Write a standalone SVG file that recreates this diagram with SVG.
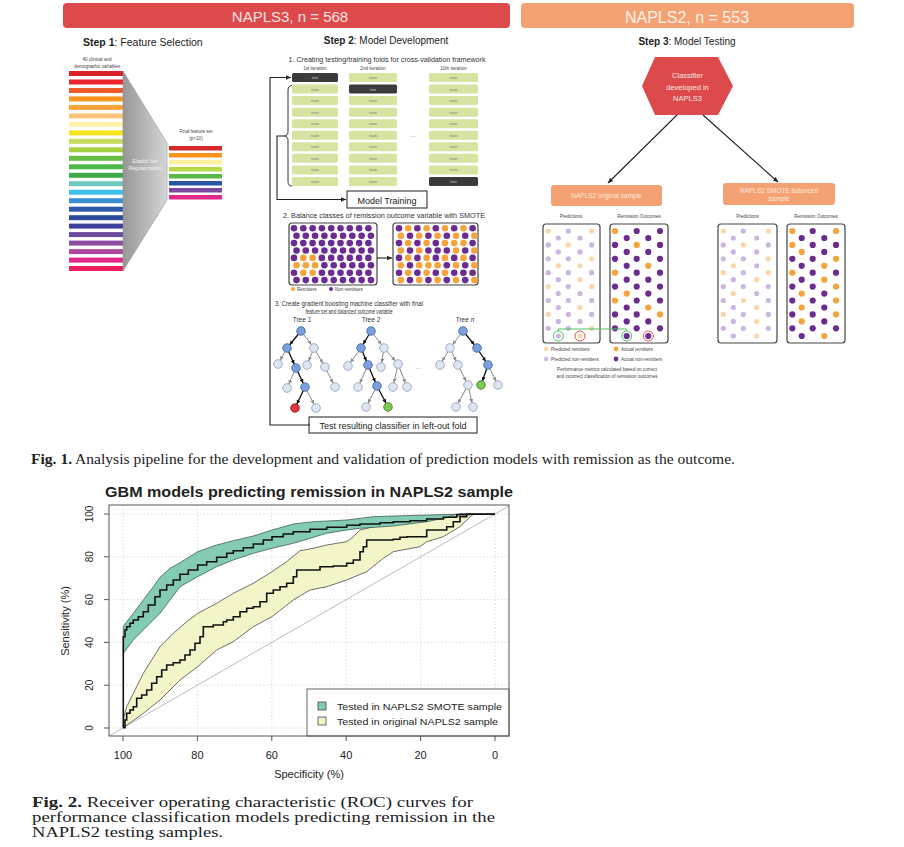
<svg xmlns="http://www.w3.org/2000/svg" width="904" height="847" viewBox="0 0 904 847">
<defs>
<style>
.sans{font-family:"Liberation Sans",Arial,sans-serif}
.serif{font-family:"Liberation Serif","Times New Roman",serif}
.tr{fill:#d6e4a2}
.ts{fill:#3b3b3b}
.tt{font-family:"Liberation Sans",Arial,sans-serif;font-size:4px;fill:#777;text-anchor:middle}
.tw{font-family:"Liberation Sans",Arial,sans-serif;font-size:4px;fill:#ccc;text-anchor:middle}
.pu{fill:#6b2c91}
.or{fill:#f5a43c}
.pp{fill:#fad6a8}
.pl{fill:#cbb6df}
.nb{fill:#7b9fdb;stroke:#3f62a8;stroke-width:0.8}
.nl{fill:#dfe6f1;stroke:#8d9cb6;stroke-width:0.8}
.nr{fill:#e2323f;stroke:#8a1a22;stroke-width:0.8}
.ng{fill:#7cc850;stroke:#3d7a25;stroke-width:0.8}
.eb{stroke:#111;stroke-width:1.3;fill:none;marker-end:url(#ab)}
.eg{stroke:#8a8a8a;stroke-width:1;fill:none;marker-end:url(#ag)}
.box{fill:#fff;stroke:#444;stroke-width:1.2}
.grid{stroke:#d4d4d4;stroke-width:0.8;stroke-dasharray:1.5 2}
.tiny{font-family:"Liberation Sans",Arial,sans-serif;font-size:4.6px;fill:#444}
.con{stroke:#222;stroke-width:1.1;fill:none;marker-end:url(#ar)}
.lab{font-family:"Liberation Sans",Arial,sans-serif;font-size:11px;fill:#222}
</style>
<marker id="ab" markerWidth="5" markerHeight="5" refX="8.3" refY="2" orient="auto" markerUnits="userSpaceOnUse"><path d="M0,0 L4,2 L0,4 z" fill="#111"/></marker>
<marker id="ag" markerWidth="5" markerHeight="5" refX="8.3" refY="2" orient="auto" markerUnits="userSpaceOnUse"><path d="M0,0 L4,2 L0,4 z" fill="#8a8a8a"/></marker>
<marker id="ar" markerWidth="6" markerHeight="6" refX="5" refY="2.3" orient="auto" markerUnits="userSpaceOnUse"><path d="M0,0 L5,2.3 L0,4.6 z" fill="#222"/></marker>
<linearGradient id="trap" x1="0" y1="0" x2="1" y2="0"><stop offset="0" stop-color="#979797"/><stop offset="1" stop-color="#d6d6d6"/></linearGradient>
<clipPath id="plotclip"><rect x="109" y="505" width="400" height="231"/></clipPath>
</defs>
<rect width="904" height="847" fill="#fff"/>

<g id="banner-napls3">
<rect x="63" y="3" width="447" height="25" rx="4" fill="#dc4a4b"/>
<text x="290" y="22" class="sans" font-size="15" fill="#fbe3e3" text-anchor="middle">NAPLS3, n = 568</text>
</g>
<g id="banner-napls2">
<rect x="521" y="3" width="333" height="25" rx="4" fill="#f4a273"/>
<text x="687" y="23" class="sans" font-size="16" fill="#fff2ea" text-anchor="middle">NAPLS2, n = 553</text>
</g>

<g id="step1">
<text x="83" y="46" class="sans" font-size="10.5" fill="#222"><tspan font-weight="bold">Step 1</tspan>: Feature Selection</text>
<text x="97" y="61" class="tiny" text-anchor="middle">40 clinical and</text>
<text x="97" y="67.5" class="tiny" text-anchor="middle">demographic variables</text>
<g id="all-variables">
<rect x="69" y="71" width="54" height="5" fill="#d9212a"/>
<rect x="69" y="79.5" width="54" height="5" fill="#e8232a"/>
<rect x="69" y="88" width="54" height="5" fill="#ef5a2a"/>
<rect x="69" y="96.4" width="54" height="5" fill="#f7941d"/>
<rect x="69" y="104.9" width="54" height="5" fill="#f9a53a"/>
<rect x="69" y="113.4" width="54" height="5" fill="#fcc57a"/>
<rect x="69" y="121.9" width="54" height="5" fill="#fdf2a8"/>
<rect x="69" y="130.4" width="54" height="5" fill="#f3e41c"/>
<rect x="69" y="138.8" width="54" height="5" fill="#c5dc5e"/>
<rect x="69" y="147.3" width="54" height="5" fill="#a5cf3e"/>
<rect x="69" y="155.8" width="54" height="5" fill="#68bd45"/>
<rect x="69" y="164.3" width="54" height="5" fill="#4db848"/>
<rect x="69" y="172.8" width="54" height="5" fill="#3ea84a"/>
<rect x="69" y="181.2" width="54" height="5" fill="#6fc8bd"/>
<rect x="69" y="189.7" width="54" height="5" fill="#40c0ea"/>
<rect x="69" y="198.2" width="54" height="5" fill="#3a90d0"/>
<rect x="69" y="206.7" width="54" height="5" fill="#2d5aa8"/>
<rect x="69" y="215.2" width="54" height="5" fill="#2b4c9b"/>
<rect x="69" y="223.6" width="54" height="5" fill="#3e3f98"/>
<rect x="69" y="232.1" width="54" height="5" fill="#6c4a9e"/>
<rect x="69" y="240.6" width="54" height="5" fill="#8b4ca1"/>
<rect x="69" y="249.1" width="54" height="5" fill="#b0479e"/>
<rect x="69" y="257.6" width="54" height="5" fill="#e2298a"/>
<rect x="69" y="266" width="54" height="5" fill="#ee1d5c"/>
</g>
<g id="node-elastic-net">
<polygon points="123,71 167,143 167,200 123,271" fill="url(#trap)" stroke="#888" stroke-width="0.5"/>
<text x="145" y="163" class="sans" font-size="5.2" fill="#f2f2f2" text-anchor="middle">Elastic Net</text>
<text x="145" y="170" class="sans" font-size="5.2" fill="#f2f2f2" text-anchor="middle">Regularization</text>
</g>
<text x="196" y="133" class="tiny" text-anchor="middle">Final feature set</text>
<text x="196" y="140" class="tiny" text-anchor="middle">(p&lt;10)</text>
<g id="final-features">
<rect x="169" y="146" width="53" height="4.5" fill="#d42a2a"/>
<rect x="169" y="153" width="53" height="4.5" fill="#f7941d"/>
<rect x="169" y="160" width="53" height="4.5" fill="#fdf0a0"/>
<rect x="169" y="167" width="53" height="4.5" fill="#b8d848"/>
<rect x="169" y="174" width="53" height="4.5" fill="#5cb848"/>
<rect x="169" y="181" width="53" height="4.5" fill="#2a55a4"/>
<rect x="169" y="188" width="53" height="4.5" fill="#7a4a9c"/>
<rect x="169" y="195" width="53" height="4.5" fill="#e02a8a"/>
</g>
</g>

<g id="step2">
<text x="386" y="44" class="sans" font-size="10" fill="#222" text-anchor="middle"><tspan font-weight="bold">Step 2</tspan>: Model Development</text>
<text x="387" y="62" class="sans" font-size="6.5" fill="#333" text-anchor="middle" textLength="197" lengthAdjust="spacingAndGlyphs">1. Creating testing/training folds for cross-validation framework</text>
<text x="315" y="69.5" class="tiny" text-anchor="middle" font-size="4.2">1st iteration</text>
<text x="373" y="69.5" class="tiny" text-anchor="middle" font-size="4.2">2nd iteration</text>
<text x="453.5" y="69.5" class="tiny" text-anchor="middle" font-size="4.2">10th iteration</text>
<g id="folds-iter1">
<rect x="292" y="73" width="46" height="9" rx="1.5" class="ts"/><text x="315" y="79" class="tw">test</text>
<rect x="292" y="84.55" width="46" height="9" rx="1.5" class="tr"/><text x="315" y="90.55" class="tt">train</text>
<rect x="292" y="96.1" width="46" height="9" rx="1.5" class="tr"/><text x="315" y="102.1" class="tt">train</text>
<rect x="292" y="107.65" width="46" height="9" rx="1.5" class="tr"/><text x="315" y="113.65" class="tt">train</text>
<rect x="292" y="119.2" width="46" height="9" rx="1.5" class="tr"/><text x="315" y="125.2" class="tt">train</text>
<rect x="292" y="130.75" width="46" height="9" rx="1.5" class="tr"/><text x="315" y="136.75" class="tt">train</text>
<rect x="292" y="142.3" width="46" height="9" rx="1.5" class="tr"/><text x="315" y="148.3" class="tt">train</text>
<rect x="292" y="153.85" width="46" height="9" rx="1.5" class="tr"/><text x="315" y="159.85" class="tt">train</text>
<rect x="292" y="165.4" width="46" height="9" rx="1.5" class="tr"/><text x="315" y="171.4" class="tt">train</text>
<rect x="292" y="176.95" width="46" height="9" rx="1.5" class="tr"/><text x="315" y="182.95" class="tt">train</text>
</g>
<g id="folds-iter2">
<rect x="349" y="73" width="48" height="9" rx="1.5" class="tr"/><text x="373" y="79" class="tt">train</text>
<rect x="349" y="84.55" width="48" height="9" rx="1.5" class="ts"/><text x="373" y="90.55" class="tw">test</text>
<rect x="349" y="96.1" width="48" height="9" rx="1.5" class="tr"/><text x="373" y="102.1" class="tt">train</text>
<rect x="349" y="107.65" width="48" height="9" rx="1.5" class="tr"/><text x="373" y="113.65" class="tt">train</text>
<rect x="349" y="119.2" width="48" height="9" rx="1.5" class="tr"/><text x="373" y="125.2" class="tt">train</text>
<rect x="349" y="130.75" width="48" height="9" rx="1.5" class="tr"/><text x="373" y="136.75" class="tt">train</text>
<rect x="349" y="142.3" width="48" height="9" rx="1.5" class="tr"/><text x="373" y="148.3" class="tt">train</text>
<rect x="349" y="153.85" width="48" height="9" rx="1.5" class="tr"/><text x="373" y="159.85" class="tt">train</text>
<rect x="349" y="165.4" width="48" height="9" rx="1.5" class="tr"/><text x="373" y="171.4" class="tt">train</text>
<rect x="349" y="176.95" width="48" height="9" rx="1.5" class="tr"/><text x="373" y="182.95" class="tt">train</text>
</g>
<text x="413" y="137" class="sans" font-size="7" fill="#999" text-anchor="middle">...</text>
<g id="folds-iter10">
<rect x="429" y="73" width="49" height="9" rx="1.5" class="tr"/><text x="453.5" y="79" class="tt">train</text>
<rect x="429" y="84.55" width="49" height="9" rx="1.5" class="tr"/><text x="453.5" y="90.55" class="tt">train</text>
<rect x="429" y="96.1" width="49" height="9" rx="1.5" class="tr"/><text x="453.5" y="102.1" class="tt">train</text>
<rect x="429" y="107.65" width="49" height="9" rx="1.5" class="tr"/><text x="453.5" y="113.65" class="tt">train</text>
<rect x="429" y="119.2" width="49" height="9" rx="1.5" class="tr"/><text x="453.5" y="125.2" class="tt">train</text>
<rect x="429" y="130.75" width="49" height="9" rx="1.5" class="tr"/><text x="453.5" y="136.75" class="tt">train</text>
<rect x="429" y="142.3" width="49" height="9" rx="1.5" class="tr"/><text x="453.5" y="148.3" class="tt">train</text>
<rect x="429" y="153.85" width="49" height="9" rx="1.5" class="tr"/><text x="453.5" y="159.85" class="tt">train</text>
<rect x="429" y="165.4" width="49" height="9" rx="1.5" class="tr"/><text x="453.5" y="171.4" class="tt">train</text>
<rect x="429" y="176.95" width="49" height="9" rx="1.5" class="ts"/><text x="453.5" y="182.95" class="tw">test</text>
</g>
<path d="M292,85.5 Q288,85.5 288,90 L288,131.5 Q288,136 284,136 Q288,136 288,140.5 L288,181.5 Q288,186 292,186" fill="none" stroke="#333" stroke-width="1"/>
<g id="node-model-training">
<rect x="347" y="191" width="80" height="17" class="box" stroke-width="1"/>
<text x="387" y="203.5" class="sans" font-size="9" fill="#222" text-anchor="middle">Model Training</text>
</g>
<text x="384" y="218" class="sans" font-size="6.5" fill="#333" text-anchor="middle" textLength="202" lengthAdjust="spacingAndGlyphs">2. Balance classes of remission outcome variable with SMOTE</text>
<g id="smote-before">
<rect x="289" y="223" width="88" height="62" rx="3" class="box"/>
<circle cx="294" cy="228.3" r="3.3" class="pu"/><circle cx="303.3" cy="228.3" r="3.3" class="pu"/><circle cx="312.6" cy="228.3" r="3.3" class="pu"/><circle cx="321.9" cy="228.3" r="3.3" class="pu"/><circle cx="331.2" cy="228.3" r="3.3" class="pu"/><circle cx="340.5" cy="228.3" r="3.3" class="pu"/><circle cx="349.8" cy="228.3" r="3.3" class="pu"/><circle cx="359.1" cy="228.3" r="3.3" class="pu"/><circle cx="368.4" cy="228.3" r="3.3" class="pu"/>
<circle cx="296.5" cy="235.7" r="3.3" class="pu"/><circle cx="305.8" cy="235.7" r="3.3" class="pu"/><circle cx="315.1" cy="235.7" r="3.3" class="pu"/><circle cx="324.4" cy="235.7" r="3.3" class="pu"/><circle cx="333.7" cy="235.7" r="3.3" class="pu"/><circle cx="343" cy="235.7" r="3.3" class="pu"/><circle cx="352.3" cy="235.7" r="3.3" class="pu"/><circle cx="361.6" cy="235.7" r="3.3" class="pu"/><circle cx="370.9" cy="235.7" r="3.3" class="pu"/>
<circle cx="294" cy="243.1" r="3.3" class="pu"/><circle cx="303.3" cy="243.1" r="3.3" class="pu"/><circle cx="312.6" cy="243.1" r="3.3" class="pu"/><circle cx="321.9" cy="243.1" r="3.3" class="pu"/><circle cx="331.2" cy="243.1" r="3.3" class="pu"/><circle cx="340.5" cy="243.1" r="3.3" class="pu"/><circle cx="349.8" cy="243.1" r="3.3" class="pu"/><circle cx="359.1" cy="243.1" r="3.3" class="pu"/><circle cx="368.4" cy="243.1" r="3.3" class="pu"/>
<circle cx="296.5" cy="250.5" r="3.3" class="pu"/><circle cx="305.8" cy="250.5" r="3.3" class="pu"/><circle cx="315.1" cy="250.5" r="3.3" class="pu"/><circle cx="324.4" cy="250.5" r="3.3" class="pu"/><circle cx="333.7" cy="250.5" r="3.3" class="pu"/><circle cx="343" cy="250.5" r="3.3" class="pu"/><circle cx="352.3" cy="250.5" r="3.3" class="pu"/><circle cx="361.6" cy="250.5" r="3.3" class="pu"/><circle cx="370.9" cy="250.5" r="3.3" class="pu"/>
<circle cx="294" cy="257.9" r="3.3" class="pu"/><circle cx="303.3" cy="257.9" r="3.3" class="or"/><circle cx="312.6" cy="257.9" r="3.3" class="or"/><circle cx="321.9" cy="257.9" r="3.3" class="pu"/><circle cx="331.2" cy="257.9" r="3.3" class="pu"/><circle cx="340.5" cy="257.9" r="3.3" class="pu"/><circle cx="349.8" cy="257.9" r="3.3" class="pu"/><circle cx="359.1" cy="257.9" r="3.3" class="pu"/><circle cx="368.4" cy="257.9" r="3.3" class="pu"/>
<circle cx="296.5" cy="265.3" r="3.3" class="or"/><circle cx="305.8" cy="265.3" r="3.3" class="or"/><circle cx="315.1" cy="265.3" r="3.3" class="or"/><circle cx="324.4" cy="265.3" r="3.3" class="pu"/><circle cx="333.7" cy="265.3" r="3.3" class="pu"/><circle cx="343" cy="265.3" r="3.3" class="pu"/><circle cx="352.3" cy="265.3" r="3.3" class="pu"/><circle cx="361.6" cy="265.3" r="3.3" class="pu"/><circle cx="370.9" cy="265.3" r="3.3" class="pu"/>
<circle cx="294" cy="272.7" r="3.3" class="pu"/><circle cx="303.3" cy="272.7" r="3.3" class="or"/><circle cx="312.6" cy="272.7" r="3.3" class="or"/><circle cx="321.9" cy="272.7" r="3.3" class="pu"/><circle cx="331.2" cy="272.7" r="3.3" class="pu"/><circle cx="340.5" cy="272.7" r="3.3" class="pu"/><circle cx="349.8" cy="272.7" r="3.3" class="pu"/><circle cx="359.1" cy="272.7" r="3.3" class="pu"/><circle cx="368.4" cy="272.7" r="3.3" class="pu"/>
<circle cx="296.5" cy="280.1" r="3.3" class="pu"/><circle cx="305.8" cy="280.1" r="3.3" class="pu"/><circle cx="315.1" cy="280.1" r="3.3" class="pu"/><circle cx="324.4" cy="280.1" r="3.3" class="pu"/><circle cx="333.7" cy="280.1" r="3.3" class="pu"/><circle cx="343" cy="280.1" r="3.3" class="pu"/><circle cx="352.3" cy="280.1" r="3.3" class="pu"/><circle cx="361.6" cy="280.1" r="3.3" class="pu"/><circle cx="370.9" cy="280.1" r="3.3" class="pu"/>
</g>
<g id="smote-after">
<rect x="393" y="223" width="85" height="62" rx="3" class="box"/>
<circle cx="399" cy="228.3" r="3.3" class="pu"/><circle cx="408.2" cy="228.3" r="3.3" class="or"/><circle cx="417.4" cy="228.3" r="3.3" class="pu"/><circle cx="426.6" cy="228.3" r="3.3" class="or"/><circle cx="435.8" cy="228.3" r="3.3" class="pu"/><circle cx="445" cy="228.3" r="3.3" class="or"/><circle cx="454.2" cy="228.3" r="3.3" class="pu"/><circle cx="463.4" cy="228.3" r="3.3" class="or"/><circle cx="472.6" cy="228.3" r="3.3" class="pu"/>
<circle cx="400.8" cy="235.7" r="3.3" class="or"/><circle cx="410" cy="235.7" r="3.3" class="pu"/><circle cx="419.2" cy="235.7" r="3.3" class="or"/><circle cx="428.4" cy="235.7" r="3.3" class="pu"/><circle cx="437.6" cy="235.7" r="3.3" class="or"/><circle cx="446.8" cy="235.7" r="3.3" class="pu"/><circle cx="456" cy="235.7" r="3.3" class="or"/><circle cx="465.2" cy="235.7" r="3.3" class="pu"/><circle cx="474.4" cy="235.7" r="3.3" class="or"/>
<circle cx="399" cy="243.1" r="3.3" class="pu"/><circle cx="408.2" cy="243.1" r="3.3" class="or"/><circle cx="417.4" cy="243.1" r="3.3" class="pu"/><circle cx="426.6" cy="243.1" r="3.3" class="or"/><circle cx="435.8" cy="243.1" r="3.3" class="pu"/><circle cx="445" cy="243.1" r="3.3" class="or"/><circle cx="454.2" cy="243.1" r="3.3" class="or"/><circle cx="463.4" cy="243.1" r="3.3" class="or"/><circle cx="472.6" cy="243.1" r="3.3" class="pu"/>
<circle cx="400.8" cy="250.5" r="3.3" class="or"/><circle cx="410" cy="250.5" r="3.3" class="pu"/><circle cx="419.2" cy="250.5" r="3.3" class="or"/><circle cx="428.4" cy="250.5" r="3.3" class="pu"/><circle cx="437.6" cy="250.5" r="3.3" class="pu"/><circle cx="446.8" cy="250.5" r="3.3" class="pu"/><circle cx="456" cy="250.5" r="3.3" class="or"/><circle cx="465.2" cy="250.5" r="3.3" class="pu"/><circle cx="474.4" cy="250.5" r="3.3" class="or"/>
<circle cx="399" cy="257.9" r="3.3" class="pu"/><circle cx="408.2" cy="257.9" r="3.3" class="or"/><circle cx="417.4" cy="257.9" r="3.3" class="pu"/><circle cx="426.6" cy="257.9" r="3.3" class="or"/><circle cx="435.8" cy="257.9" r="3.3" class="pu"/><circle cx="445" cy="257.9" r="3.3" class="or"/><circle cx="454.2" cy="257.9" r="3.3" class="pu"/><circle cx="463.4" cy="257.9" r="3.3" class="or"/><circle cx="472.6" cy="257.9" r="3.3" class="pu"/>
<circle cx="400.8" cy="265.3" r="3.3" class="or"/><circle cx="410" cy="265.3" r="3.3" class="pu"/><circle cx="419.2" cy="265.3" r="3.3" class="or"/><circle cx="428.4" cy="265.3" r="3.3" class="or"/><circle cx="437.6" cy="265.3" r="3.3" class="or"/><circle cx="446.8" cy="265.3" r="3.3" class="pu"/><circle cx="456" cy="265.3" r="3.3" class="or"/><circle cx="465.2" cy="265.3" r="3.3" class="pu"/><circle cx="474.4" cy="265.3" r="3.3" class="or"/>
<circle cx="399" cy="272.7" r="3.3" class="pu"/><circle cx="408.2" cy="272.7" r="3.3" class="or"/><circle cx="417.4" cy="272.7" r="3.3" class="pu"/><circle cx="426.6" cy="272.7" r="3.3" class="or"/><circle cx="435.8" cy="272.7" r="3.3" class="pu"/><circle cx="445" cy="272.7" r="3.3" class="or"/><circle cx="454.2" cy="272.7" r="3.3" class="pu"/><circle cx="463.4" cy="272.7" r="3.3" class="pu"/><circle cx="472.6" cy="272.7" r="3.3" class="pu"/>
<circle cx="400.8" cy="280.1" r="3.3" class="or"/><circle cx="410" cy="280.1" r="3.3" class="pu"/><circle cx="419.2" cy="280.1" r="3.3" class="or"/><circle cx="428.4" cy="280.1" r="3.3" class="pu"/><circle cx="437.6" cy="280.1" r="3.3" class="or"/><circle cx="446.8" cy="280.1" r="3.3" class="pu"/><circle cx="456" cy="280.1" r="3.3" class="or"/><circle cx="465.2" cy="280.1" r="3.3" class="pu"/><circle cx="474.4" cy="280.1" r="3.3" class="or"/>
</g>
<circle cx="293" cy="289" r="2" class="or"/><text x="297" y="290.6" class="tiny" font-size="4.2">Remitters</text>
<circle cx="331" cy="289" r="2" class="pu"/><text x="335" y="290.6" class="tiny" font-size="4.2">Non-remitters</text>
<text x="349" y="306" class="sans" font-size="6.3" fill="#333" text-anchor="middle" textLength="148" lengthAdjust="spacingAndGlyphs">3. Create gradient boosting machine classifier with final</text>
<text x="349" y="313.5" class="sans" font-size="6.3" fill="#333" text-anchor="middle" textLength="87" lengthAdjust="spacingAndGlyphs">feature set and balanced outcome variable</text>
<text x="302" y="322" class="sans" font-size="6.5" fill="#333" text-anchor="middle">Tree 1</text>
<text x="371" y="322" class="sans" font-size="6.5" fill="#333" text-anchor="middle">Tree 2</text>
<text x="465" y="322" class="sans" font-size="6.5" fill="#333" text-anchor="middle">Tree <tspan font-style="italic">n</tspan></text>
<g id="tree-1">
<path class="eb" d="M301,331 L287,348"/><path class="eg" d="M301,331 L314,348"/>
<path class="eg" d="M287,348 L278,364"/><path class="eb" d="M287,348 L296,368"/>
<path class="eg" d="M314,348 L307,365"/><path class="eg" d="M314,348 L325,367"/>
<path class="eg" d="M296,368 L287,388"/><path class="eb" d="M296,368 L305,387"/>
<path class="eg" d="M325,367 L335,387"/>
<path class="eb" d="M305,387 L295,408"/><path class="eg" d="M305,387 L316,408"/>
<circle cx="301" cy="331" r="4.3" class="nb"/><circle cx="287" cy="348" r="4.3" class="nb"/><circle cx="314" cy="348" r="4.3" class="nl"/>
<circle cx="278" cy="364" r="4.3" class="nl"/><circle cx="296" cy="368" r="4.3" class="nb"/><circle cx="307" cy="365" r="4.3" class="nl"/><circle cx="325" cy="367" r="4.3" class="nl"/>
<circle cx="287" cy="388" r="4.3" class="nl"/><circle cx="305" cy="387" r="4.3" class="nb"/><circle cx="335" cy="387" r="4.3" class="nl"/>
<circle cx="295" cy="408" r="4.3" class="nr"/><circle cx="316" cy="408" r="4.3" class="nl"/>
</g>
<g id="tree-2">
<path class="eb" d="M371,331 L361,348"/><path class="eg" d="M371,331 L384,348"/>
<path class="eg" d="M361,348 L348,366"/><path class="eb" d="M361,348 L368,365"/>
<path class="eg" d="M384,348 L381,367"/><path class="eg" d="M384,348 L398,364"/>
<path class="eg" d="M368,365 L358,387"/><path class="eb" d="M368,365 L377,386"/>
<path class="eg" d="M398,364 L393,387"/><path class="eg" d="M398,364 L407,387"/>
<path class="eb" d="M377,386 L388,407"/><path class="eg" d="M377,386 L366,407"/>
<circle cx="371" cy="331" r="4.3" class="nb"/><circle cx="361" cy="348" r="4.3" class="nb"/><circle cx="384" cy="348" r="4.3" class="nl"/>
<circle cx="348" cy="366" r="4.3" class="nl"/><circle cx="368" cy="365" r="4.3" class="nb"/><circle cx="381" cy="367" r="4.3" class="nl"/><circle cx="398" cy="364" r="4.3" class="nl"/>
<circle cx="358" cy="387" r="4.3" class="nl"/><circle cx="377" cy="386" r="4.3" class="nb"/><circle cx="393" cy="387" r="4.3" class="nl"/><circle cx="407" cy="387" r="4.3" class="nl"/>
<circle cx="388" cy="407" r="4.3" class="ng"/><circle cx="366" cy="407" r="4.3" class="nl"/>
</g>
<text x="418" y="369" class="sans" font-size="7" fill="#999" text-anchor="middle">...</text>
<g id="tree-n">
<path class="eg" d="M463,331 L450,348"/><path class="eb" d="M463,331 L477,348"/>
<path class="eg" d="M450,348 L440,365"/><path class="eg" d="M450,348 L458,365"/>
<path class="eb" d="M477,348 L488,365"/>
<path class="eg" d="M458,365 L468,385"/>
<path class="eb" d="M488,365 L481,385"/><path class="eg" d="M488,365 L498,385"/>
<path class="eg" d="M468,385 L456,407"/><path class="eg" d="M468,385 L473,407"/>
<circle cx="463" cy="331" r="4.3" class="nb"/><circle cx="450" cy="348" r="4.3" class="nl"/><circle cx="477" cy="348" r="4.3" class="nb"/>
<circle cx="440" cy="365" r="4.3" class="nl"/><circle cx="458" cy="365" r="4.3" class="nl"/><circle cx="488" cy="365" r="4.3" class="nb"/>
<circle cx="468" cy="385" r="4.3" class="nl"/><circle cx="481" cy="385" r="4.3" class="ng"/><circle cx="498" cy="385" r="4.3" class="nl"/>
<circle cx="456" cy="407" r="4.3" class="nl"/><circle cx="473" cy="407" r="4.3" class="nl"/>
</g>
<g id="node-test-classifier">
<rect x="309" y="417" width="168" height="16" class="box" stroke-width="1"/>
<text x="393" y="428.5" class="sans" font-size="9" fill="#222" text-anchor="middle">Test resulting classifier in left-out fold</text>
</g>
</g>

<g id="step3">
<text x="687" y="45" class="sans" font-size="10" fill="#222" text-anchor="middle"><tspan font-weight="bold">Step 3</tspan>: Model Testing</text>
<g id="node-classifier">
<polygon points="642,86 655,57 718,57 733,86 718,115 655,115" fill="#dc4a4b"/>
<text x="687.5" y="78" class="sans" font-size="7.5" fill="#fde6e6" text-anchor="middle">Classifier</text>
<text x="687.5" y="90" class="sans" font-size="7.5" fill="#fde6e6" text-anchor="middle">developed in</text>
<text x="687.5" y="101" class="sans" font-size="7.5" fill="#fde6e6" text-anchor="middle">NAPLS3</text>
</g>
<g id="node-original-sample">
<rect x="551" y="185" width="111" height="21" rx="3" fill="#f4a273"/>
<text x="606.5" y="198" class="sans" font-size="6.5" fill="#fde9dc" text-anchor="middle">NAPLS2 original sample</text>
</g>
<g id="node-smote-sample">
<rect x="723" y="183" width="112" height="22" rx="3" fill="#f4a273"/>
<text x="779" y="192.5" class="sans" font-size="6.5" fill="#fde9dc" text-anchor="middle">NAPLS2 SMOTE balanced</text>
<text x="779" y="201" class="sans" font-size="6.5" fill="#fde9dc" text-anchor="middle">sample</text>
</g>
<text x="571" y="218" class="tiny" text-anchor="middle">Predictions</text>
<text x="639" y="218" class="tiny" text-anchor="middle">Remission Outcomes</text>
<text x="747.5" y="218" class="tiny" text-anchor="middle">Predictions</text>
<text x="816" y="218" class="tiny" text-anchor="middle">Remission Outcomes</text>
<g id="orig-predictions">
<rect x="543" y="224" width="57" height="119" rx="3" class="box"/>
<circle cx="548.3" cy="231" r="2.6" class="pp"/><circle cx="568.3" cy="231" r="2.6" class="pl"/><circle cx="591.7" cy="231" r="2.6" class="pp"/>
<circle cx="558.3" cy="238" r="2.6" class="pl"/><circle cx="580" cy="238" r="2.6" class="pl"/>
<circle cx="548.3" cy="244.9" r="2.6" class="pl"/><circle cx="568.3" cy="244.9" r="2.6" class="pp"/><circle cx="591.7" cy="244.9" r="2.6" class="pl"/>
<circle cx="558.3" cy="251.9" r="2.6" class="pl"/><circle cx="580" cy="251.9" r="2.6" class="pl"/>
<circle cx="548.3" cy="258.8" r="2.6" class="pl"/><circle cx="568.3" cy="258.8" r="2.6" class="pl"/><circle cx="591.7" cy="258.8" r="2.6" class="pp"/>
<circle cx="558.3" cy="265.8" r="2.6" class="pp"/><circle cx="580" cy="265.8" r="2.6" class="pp"/>
<circle cx="548.3" cy="272.7" r="2.6" class="pl"/><circle cx="568.3" cy="272.7" r="2.6" class="pl"/><circle cx="591.7" cy="272.7" r="2.6" class="pl"/>
<circle cx="558.3" cy="279.7" r="2.6" class="pl"/><circle cx="580" cy="279.7" r="2.6" class="pp"/>
<circle cx="548.3" cy="286.6" r="2.6" class="pp"/><circle cx="568.3" cy="286.6" r="2.6" class="pl"/><circle cx="591.7" cy="286.6" r="2.6" class="pp"/>
<circle cx="558.3" cy="293.6" r="2.6" class="pl"/><circle cx="580" cy="293.6" r="2.6" class="pl"/>
<circle cx="548.3" cy="300.5" r="2.6" class="pl"/><circle cx="568.3" cy="300.5" r="2.6" class="pl"/><circle cx="591.7" cy="300.5" r="2.6" class="pl"/>
<circle cx="558.3" cy="307.5" r="2.6" class="pl"/><circle cx="580" cy="307.5" r="2.6" class="pp"/>
<circle cx="548.3" cy="314.4" r="2.6" class="pp"/><circle cx="568.3" cy="314.4" r="2.6" class="pl"/><circle cx="591.7" cy="314.4" r="2.6" class="pl"/>
<circle cx="558.3" cy="321.4" r="2.6" class="pl"/><circle cx="580" cy="321.4" r="2.6" class="pl"/>
<circle cx="548.3" cy="328.3" r="2.6" class="pl"/><circle cx="568.3" cy="328.3" r="2.6" class="pl"/><circle cx="591.7" cy="328.3" r="2.6" class="pp"/>
<circle cx="558.3" cy="336" r="2.6" class="pl"/><circle cx="580" cy="336" r="2.6" class="pp"/>
</g>
<g id="orig-outcomes">
<rect x="610" y="224" width="58" height="119" rx="3" class="box"/>
<circle cx="615" cy="231" r="3.1" class="or"/><circle cx="636.7" cy="231" r="3.1" class="pu"/><circle cx="660" cy="231" r="3.1" class="pu"/>
<circle cx="626.7" cy="238" r="3.1" class="pu"/><circle cx="648.3" cy="238" r="3.1" class="pu"/>
<circle cx="615" cy="244.9" r="3.1" class="pu"/><circle cx="636.7" cy="244.9" r="3.1" class="or"/><circle cx="660" cy="244.9" r="3.1" class="pu"/>
<circle cx="626.7" cy="251.9" r="3.1" class="pu"/><circle cx="648.3" cy="251.9" r="3.1" class="pu"/>
<circle cx="615" cy="258.8" r="3.1" class="pu"/><circle cx="636.7" cy="258.8" r="3.1" class="pu"/><circle cx="660" cy="258.8" r="3.1" class="pu"/>
<circle cx="626.7" cy="265.8" r="3.1" class="pu"/><circle cx="648.3" cy="265.8" r="3.1" class="or"/>
<circle cx="615" cy="272.7" r="3.1" class="or"/><circle cx="636.7" cy="272.7" r="3.1" class="pu"/><circle cx="660" cy="272.7" r="3.1" class="pu"/>
<circle cx="626.7" cy="279.7" r="3.1" class="pu"/><circle cx="648.3" cy="279.7" r="3.1" class="pu"/>
<circle cx="615" cy="286.6" r="3.1" class="pu"/><circle cx="636.7" cy="286.6" r="3.1" class="pu"/><circle cx="660" cy="286.6" r="3.1" class="pu"/>
<circle cx="626.7" cy="293.6" r="3.1" class="or"/><circle cx="648.3" cy="293.6" r="3.1" class="pu"/>
<circle cx="615" cy="300.5" r="3.1" class="or"/><circle cx="636.7" cy="300.5" r="3.1" class="pu"/><circle cx="660" cy="300.5" r="3.1" class="pu"/>
<circle cx="626.7" cy="307.5" r="3.1" class="pu"/><circle cx="648.3" cy="307.5" r="3.1" class="or"/>
<circle cx="615" cy="314.4" r="3.1" class="pu"/><circle cx="636.7" cy="314.4" r="3.1" class="pu"/><circle cx="660" cy="314.4" r="3.1" class="or"/>
<circle cx="626.7" cy="321.4" r="3.1" class="pu"/><circle cx="648.3" cy="321.4" r="3.1" class="pu"/>
<circle cx="615" cy="328.3" r="3.1" class="pu"/><circle cx="636.7" cy="328.3" r="3.1" class="pu"/><circle cx="660" cy="328.3" r="3.1" class="pu"/>
<circle cx="626.7" cy="336" r="3.1" class="pu"/><circle cx="648.3" cy="336" r="3.1" class="pu"/>
</g>
<g id="classification-marks" fill="none" stroke-width="1">
<path d="M558.3,331 V329 H626.7 V331" stroke="#4fc26a"/>
<circle cx="558.3" cy="336" r="5" stroke="#4fc26a"/>
<circle cx="626.7" cy="336" r="5" stroke="#4fc26a"/>
<circle cx="580" cy="336" r="5" stroke="#d9534f"/>
<circle cx="648.3" cy="336" r="5" stroke="#d9534f"/>
</g>
<circle cx="546" cy="349" r="2.2" class="pp"/><text x="551" y="350.6" class="tiny">Predicted remitters</text>
<circle cx="546" cy="359" r="2.2" class="pl"/><text x="551" y="360.6" class="tiny">Predicted non-remitters</text>
<circle cx="616" cy="349" r="2.4" class="or"/><text x="621" y="350.6" class="tiny">Actual remitters</text>
<circle cx="616" cy="359" r="2.4" class="pu"/><text x="621" y="360.6" class="tiny">Actual non-remitters</text>
<text x="607" y="370.5" class="tiny" text-anchor="middle">Performance metrics calculated based on correct</text>
<text x="607" y="377.5" class="tiny" text-anchor="middle">and incorrect classification of remission outcomes</text>
<g id="smote-predictions">
<rect x="718" y="224" width="59" height="119" rx="3" class="box"/>
<circle cx="723.3" cy="231" r="2.6" class="pp"/><circle cx="743.3" cy="231" r="2.6" class="pl"/><circle cx="768.3" cy="231" r="2.6" class="pp"/>
<circle cx="733.3" cy="238" r="2.6" class="pl"/><circle cx="756.7" cy="238" r="2.6" class="pl"/>
<circle cx="723.3" cy="244.9" r="2.6" class="pl"/><circle cx="743.3" cy="244.9" r="2.6" class="pp"/><circle cx="768.3" cy="244.9" r="2.6" class="pl"/>
<circle cx="733.3" cy="251.9" r="2.6" class="pl"/><circle cx="756.7" cy="251.9" r="2.6" class="pl"/>
<circle cx="723.3" cy="258.8" r="2.6" class="pl"/><circle cx="743.3" cy="258.8" r="2.6" class="pl"/><circle cx="768.3" cy="258.8" r="2.6" class="pp"/>
<circle cx="733.3" cy="265.8" r="2.6" class="pp"/><circle cx="756.7" cy="265.8" r="2.6" class="pl"/>
<circle cx="723.3" cy="272.7" r="2.6" class="pp"/><circle cx="743.3" cy="272.7" r="2.6" class="pl"/><circle cx="768.3" cy="272.7" r="2.6" class="pp"/>
<circle cx="733.3" cy="279.7" r="2.6" class="pl"/><circle cx="756.7" cy="279.7" r="2.6" class="pp"/>
<circle cx="723.3" cy="286.6" r="2.6" class="pl"/><circle cx="743.3" cy="286.6" r="2.6" class="pl"/><circle cx="768.3" cy="286.6" r="2.6" class="pl"/>
<circle cx="733.3" cy="293.6" r="2.6" class="pp"/><circle cx="756.7" cy="293.6" r="2.6" class="pl"/>
<circle cx="723.3" cy="300.5" r="2.6" class="pl"/><circle cx="743.3" cy="300.5" r="2.6" class="pp"/><circle cx="768.3" cy="300.5" r="2.6" class="pl"/>
<circle cx="733.3" cy="307.5" r="2.6" class="pl"/><circle cx="756.7" cy="307.5" r="2.6" class="pp"/>
<circle cx="723.3" cy="314.4" r="2.6" class="pp"/><circle cx="743.3" cy="314.4" r="2.6" class="pl"/><circle cx="768.3" cy="314.4" r="2.6" class="pl"/>
<circle cx="733.3" cy="321.4" r="2.6" class="pl"/><circle cx="756.7" cy="321.4" r="2.6" class="pp"/>
<circle cx="723.3" cy="328.3" r="2.6" class="pl"/><circle cx="743.3" cy="328.3" r="2.6" class="pl"/><circle cx="768.3" cy="328.3" r="2.6" class="pl"/>
<circle cx="733.3" cy="336" r="2.6" class="pl"/><circle cx="756.7" cy="336" r="2.6" class="pp"/>
</g>
<g id="smote-outcomes">
<rect x="787" y="224" width="58" height="119" rx="3" class="box"/>
<circle cx="792.3" cy="231" r="3.1" class="or"/><circle cx="812.7" cy="231" r="3.1" class="pu"/><circle cx="836" cy="231" r="3.1" class="or"/>
<circle cx="801.7" cy="238" r="3.1" class="pu"/><circle cx="824.3" cy="238" r="3.1" class="pu"/>
<circle cx="792.3" cy="244.9" r="3.1" class="or"/><circle cx="812.7" cy="244.9" r="3.1" class="pu"/><circle cx="836" cy="244.9" r="3.1" class="pu"/>
<circle cx="801.7" cy="251.9" r="3.1" class="or"/><circle cx="824.3" cy="251.9" r="3.1" class="pu"/>
<circle cx="792.3" cy="258.8" r="3.1" class="pu"/><circle cx="812.7" cy="258.8" r="3.1" class="pu"/><circle cx="836" cy="258.8" r="3.1" class="or"/>
<circle cx="801.7" cy="265.8" r="3.1" class="pu"/><circle cx="824.3" cy="265.8" r="3.1" class="or"/>
<circle cx="792.3" cy="272.7" r="3.1" class="or"/><circle cx="812.7" cy="272.7" r="3.1" class="pu"/><circle cx="836" cy="272.7" r="3.1" class="pu"/>
<circle cx="801.7" cy="279.7" r="3.1" class="pu"/><circle cx="824.3" cy="279.7" r="3.1" class="or"/>
<circle cx="792.3" cy="286.6" r="3.1" class="pu"/><circle cx="812.7" cy="286.6" r="3.1" class="pu"/><circle cx="836" cy="286.6" r="3.1" class="or"/>
<circle cx="801.7" cy="293.6" r="3.1" class="or"/><circle cx="824.3" cy="293.6" r="3.1" class="pu"/>
<circle cx="792.3" cy="300.5" r="3.1" class="pu"/><circle cx="812.7" cy="300.5" r="3.1" class="pu"/><circle cx="836" cy="300.5" r="3.1" class="or"/>
<circle cx="801.7" cy="307.5" r="3.1" class="or"/><circle cx="824.3" cy="307.5" r="3.1" class="pu"/>
<circle cx="792.3" cy="314.4" r="3.1" class="pu"/><circle cx="812.7" cy="314.4" r="3.1" class="pu"/><circle cx="836" cy="314.4" r="3.1" class="or"/>
<circle cx="801.7" cy="321.4" r="3.1" class="or"/><circle cx="824.3" cy="321.4" r="3.1" class="pu"/>
<circle cx="792.3" cy="328.3" r="3.1" class="pu"/><circle cx="812.7" cy="328.3" r="3.1" class="pu"/><circle cx="836" cy="328.3" r="3.1" class="pu"/>
<circle cx="801.7" cy="336" r="3.1" class="pu"/><circle cx="824.3" cy="336" r="3.1" class="or"/>
</g>
</g>

<g id="connectors">
<path class="con" d="M310,425 H270 V77.5 H291"/>
<path class="con" d="M284,136 H277 V199.5 H346"/>
<path class="con" d="M377,258 H392"/>
<path class="con" d="M677,115 L608,183"/>
<path class="con" d="M703,115 L778,182"/>
</g>

<text x="31" y="464" class="serif" font-size="14" fill="#222" textLength="704" lengthAdjust="spacingAndGlyphs"><tspan font-weight="bold">Fig. 1.</tspan>  Analysis pipeline for the development and validation of prediction models with remission as the outcome.</text>

<g id="fig2-roc">
<text x="105" y="497" class="sans" font-size="14" font-weight="bold" fill="#222" textLength="408" lengthAdjust="spacingAndGlyphs">GBM models predicting remission in NAPLS2 sample</text>
<g class="grid">
<line x1="123" y1="505" x2="123" y2="736"/><line x1="197.4" y1="505" x2="197.4" y2="736"/><line x1="271.8" y1="505" x2="271.8" y2="736"/><line x1="346.2" y1="505" x2="346.2" y2="736"/><line x1="420.6" y1="505" x2="420.6" y2="736"/><line x1="495" y1="505" x2="495" y2="736"/>
<line x1="109" y1="728" x2="509" y2="728"/><line x1="109" y1="685.2" x2="509" y2="685.2"/><line x1="109" y1="642.4" x2="509" y2="642.4"/><line x1="109" y1="599.6" x2="509" y2="599.6"/><line x1="109" y1="556.8" x2="509" y2="556.8"/><line x1="109" y1="514" x2="509" y2="514"/>
</g>
<line x1="109" y1="736" x2="509" y2="506" stroke="#bdbdbd" stroke-width="1" clip-path="url(#plotclip)"/>
<path d="M123.3,727.7 L124,716.7 L126.7,706.7 L133.3,693.3 L143.3,673.3 L151.7,660 L160,646.7 L173.3,633.3 L186.7,621.7 L197.7,613.3 L216.7,603.3 L233.3,593.3 L253.3,583.3 L272,571.7 L286.7,561.7 L300,550.7 L313.3,548.3 L326.7,545 L346.7,541.7 L353.3,536.7 L360,530 L373.3,526.7 L393.3,523.3 L426.7,520 L460,516 L473.3,514.3 L466.7,520 L460,526.7 L443.3,536.7 L426.7,541.7 L420,546.7 L393.3,551.7 L383.3,558.3 L366.7,571.7 L346.7,580 L326.7,586.7 L310,590 L293.3,600 L272,616.7 L253.3,626.7 L233.3,641.7 L216.7,650 L197.7,666.7 L180,680 L160,700 L143.3,713.3 Z" fill="#f4f4c9" stroke="#333" stroke-width="0.7"/>
<path d="M123.3,626.7 L126.7,621.7 L133.3,613.3 L143.3,600 L153.3,586.7 L160,577.3 L170,568.3 L180,562.7 L197.7,551.7 L216.7,545 L233.3,540.7 L253.3,536 L272,530 L293.3,524 L313.3,521.7 L346.7,520 L373.3,516.7 L393.3,516 L426.7,515 L454.3,514.3 L495,514.3 L456.7,514.3 L443.3,518.3 L426.7,521.7 L393.3,526 L360,528.3 L346.7,530 L326.7,533.3 L310,538.3 L293.3,543.3 L272,548.3 L253.3,553.3 L233.3,560 L216.7,566.7 L197.7,576.7 L180,586.7 L160,613.3 L143.3,630 L133.3,640 L123.3,653.3 Z" fill="#84cbb5" stroke="#2b4f45" stroke-width="0.7"/>
<path d="M123.3,727.7 H125 V720 H126.7 V713.3 H130 V710 H133.3 V706.7 H136.7 V698.3 H141.7 V695 H146.7 V690 H151.7 V683.3 H156.7 V676.7 H161.7 V670 H166.7 V665 H173.3 V662.7 H180 V660 H185 V655 H190 V650 H195 V643.3 H200 V636.7 H203.3 V626.7 H213.3 V625 H223.3 V621.7 H226.7 V620 H233.3 V616.7 H240 V611.7 H246.7 V608.3 H253.3 V606.7 H260 V601.7 H266.7 V593.3 H273.3 V590 H280 V586.7 H286.7 V583.3 H293.3 V576.7 H296.7 V570 H313.3 H320 V566.7 H333.3 V566 H346.7 V563.3 H353.3 V560 H360 V551.7 H363.3 V546.7 H366.7 V540 H393.3 V539.3 H400 V537.3 H406.7 V536.7 H426.7 V530 H446.7 V526.7 H453.3 V521.7 H460 V516.7 H466.7 V514.3 H495" fill="none" stroke="#111" stroke-width="1.6"/>
<path d="M123.3,727.7 V636.7 H125 V630 H126.7 V626.7 H130 V623.3 H133.3 V620 H138.3 V616.7 H143.3 V611.7 H148.3 V605 H155 V596.7 H160 V590 H166.7 V585 H173.3 V580 H180 V574.3 H188.3 V570 H197.7 V565 H206.7 V561.7 H216.7 V557.3 H226.7 V553.3 H233.3 V550.7 H243.3 V547.7 H253.3 V544 H263.3 V540 H272 V536.7 H283.3 V534 H293.3 V531.7 H310 V529.3 H326.7 V527.3 H346.7 V525.3 H360 V524 H380 V522.7 H393.3 V521.7 H410 V520.7 H426.7 V519 H443.3 V517.3 H456.7 V514.7 H460 V514.3 H495" fill="none" stroke="#111" stroke-width="1.6"/>
<g id="legend">
<rect x="307" y="689" width="202" height="47" fill="#fff" stroke="#555" stroke-width="0.9"/>
<rect x="318" y="702" width="8" height="8" fill="#84cbb5" stroke="#333" stroke-width="0.7"/>
<text x="337" y="709.5" class="sans" font-size="9.8" fill="#222" textLength="165" lengthAdjust="spacingAndGlyphs">Tested in NAPLS2 SMOTE sample</text>
<rect x="318" y="717" width="8" height="8" fill="#f4f4c9" stroke="#333" stroke-width="0.7"/>
<text x="337" y="724.5" class="sans" font-size="9.8" fill="#222" textLength="161" lengthAdjust="spacingAndGlyphs">Tested in original NAPLS2 sample</text>
</g>
<rect x="109" y="505" width="400" height="231" fill="none" stroke="#555" stroke-width="1"/>
<g stroke="#555" stroke-width="1">
<line x1="123" y1="736" x2="123" y2="741"/><line x1="197.4" y1="736" x2="197.4" y2="741"/><line x1="271.8" y1="736" x2="271.8" y2="741"/><line x1="346.2" y1="736" x2="346.2" y2="741"/><line x1="420.6" y1="736" x2="420.6" y2="741"/><line x1="495" y1="736" x2="495" y2="741"/>
<line x1="104" y1="728" x2="109" y2="728"/><line x1="104" y1="685.2" x2="109" y2="685.2"/><line x1="104" y1="642.4" x2="109" y2="642.4"/><line x1="104" y1="599.6" x2="109" y2="599.6"/><line x1="104" y1="556.8" x2="109" y2="556.8"/><line x1="104" y1="514" x2="109" y2="514"/>
</g>
<g class="lab" text-anchor="middle">
<text x="123" y="759">100</text><text x="197.4" y="759">80</text><text x="271.8" y="759">60</text><text x="346.2" y="759">40</text><text x="420.6" y="759">20</text><text x="495" y="759">0</text>
<text transform="translate(93,728) rotate(-90)" font-size="10">0</text>
<text transform="translate(93,685.2) rotate(-90)" font-size="10">20</text>
<text transform="translate(93,642.4) rotate(-90)" font-size="10">40</text>
<text transform="translate(93,599.6) rotate(-90)" font-size="10">60</text>
<text transform="translate(93,556.8) rotate(-90)" font-size="10">80</text>
<text transform="translate(93,514) rotate(-90)" font-size="10">100</text>
<text x="309" y="778">Specificity (%)</text>
<text transform="translate(69,621) rotate(-90)">Sensitivity (%)</text>
</g>
</g>

<g class="serif" fill="#222" font-size="15">
<text x="32" y="807" textLength="441" lengthAdjust="spacingAndGlyphs"><tspan font-weight="bold">Fig. 2.</tspan>  Receiver operating characteristic (ROC) curves for</text>
<text x="32" y="822" textLength="463" lengthAdjust="spacingAndGlyphs">performance classification models predicting remission in the</text>
<text x="32" y="837" textLength="191" lengthAdjust="spacingAndGlyphs">NAPLS2 testing samples.</text>
</g>
</svg>
